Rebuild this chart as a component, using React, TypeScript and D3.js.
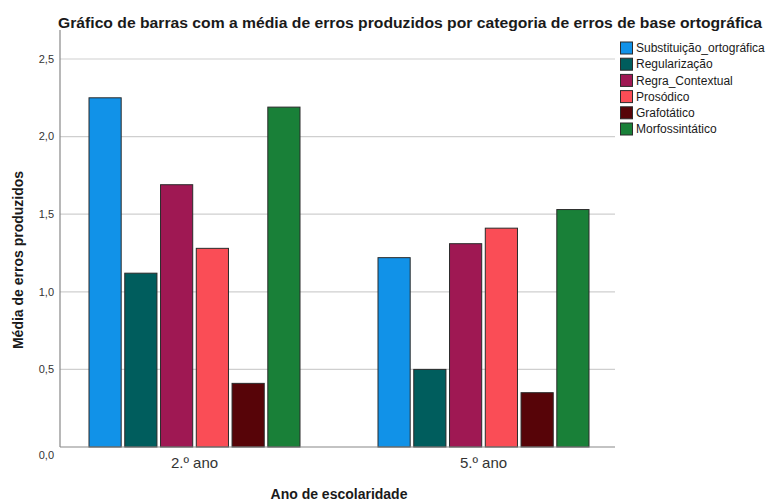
import React from "react";
import * as d3 from "d3";

const title = "Gráfico de barras com a média de erros produzidos por categoria de erros de base ortográfica";
const groups = ["2.º ano", "5.º ano"];
const series = ["Substituição_ortográfica", "Regularização", "Regra_Contextual", "Prosódico", "Grafotático", "Morfossintático"];
const colors = ["#1192e8", "#005d5d", "#9f1853", "#fa4d56", "#570408", "#198038"];
const values2ano = [2.25, 1.12, 1.69, 1.28, 0.41, 2.19];
const values5ano = [1.22, 0.50, 1.31, 1.41, 0.35, 1.53];
const yTicks = [0, 0.5, 1.0, 1.5, 2.0, 2.5];
const yLabel = "Média de erros produzidos";
const xLabel = "Ano de escolaridade";

const W = 772, H = 502;
const plot = { left: 60, right: 615, top: 30, bottom: 447 };
const font = "Arial, 'Liberation Sans', sans-serif";

export default function App() {
  const data = [values2ano, values5ano];
  const y = d3.scaleLinear().domain([0, 2.5]).range([plot.bottom, 59]);
  const x0 = d3.scaleBand().domain(groups).range([50, 628]);
  const x1 = d3.scaleBand().domain(series).range([39, 250]).paddingInner(0.1);
  const fmt = (v: number) => v.toFixed(1).replace(".", ",");

  return (
    <svg width={W} height={H} style={{ position: "absolute", left: 0, top: 0, background: "#fff" }} fontFamily={font}>
      <rect x={0} y={0} width={W} height={H} fill="#fff" />
      <text x={410} y={28} textAnchor="middle" fontSize={14} fontWeight="bold" fill="#1a1a1a"
        textLength={704} lengthAdjust="spacingAndGlyphs">{title}</text>
      {yTicks.filter(t => t > 0).map(t => (
        <line key={t} x1={plot.left} x2={plot.right} y1={y(t)} y2={y(t)} stroke="#cfcfcf" strokeWidth={1.2} />
      ))}
      {yTicks.map(t => (
        <text key={"l" + t} x={54} y={y(t) + (t === 0 ? 8 : 0)} dy="0.35em" textAnchor="end" fontSize={11} fill="#333">{fmt(t)}</text>
      ))}
      <line x1={plot.left} x2={plot.left} y1={plot.top} y2={plot.bottom} stroke="#888" strokeWidth={1.2} />
      {groups.map((g, gi) => (
        <g key={g} transform={`translate(${x0(g)},0)`}>
          {series.map((s, si) => (
            <rect key={s} x={x1(s)} y={y(data[gi][si])} width={x1.bandwidth()} height={plot.bottom - y(data[gi][si])}
              fill={colors[si]} stroke="#2b2b2b" strokeWidth={1} />
          ))}
          <text x={x0.bandwidth() / 2} y={468} textAnchor="middle" fontSize={15} fill="#333">{g}</text>
        </g>
      ))}
      <line x1={plot.left} x2={plot.right} y1={plot.bottom} y2={plot.bottom} stroke="#888" strokeWidth={1.2} />
      <text transform={`translate(23,260) rotate(-90)`} textAnchor="middle" fontSize={14} fontWeight="bold" fill="#1a1a1a">{yLabel}</text>
      <text x={339} y={499} textAnchor="middle" fontSize={14} fontWeight="bold" fill="#1a1a1a">{xLabel}</text>
      {series.map((s, i) => (
        <g key={s} transform={`translate(620,${41.5 + i * 16.2})`}>
          <rect x={0.5} y={0.5} width={12} height={12} fill={colors[i]} stroke="#2b2b2b" strokeWidth={1} />
          <text x={16} y={6.5} dy="0.35em" fontSize={12} fill="#1a1a1a">{s}</text>
        </g>
      ))}
    </svg>
  );
}
